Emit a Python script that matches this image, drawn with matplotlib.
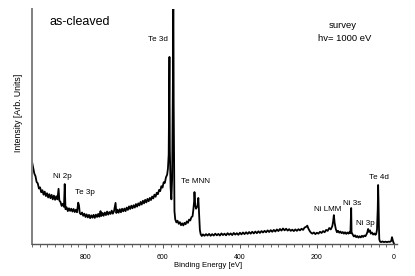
"""XPS survey spectrum of as-cleaved sample (hv = 1000 eV)."""
import matplotlib
matplotlib.use("Agg")
import matplotlib.pyplot as plt
from matplotlib.ticker import MultipleLocator

plt.rcParams["font.family"] = ["Liberation Sans", "DejaVu Sans"]

# binding energy [eV] and intensity [arb. units]
energy = [
    940, 937, 934, 931, 928, 925, 922, 919, 916, 913, 910, 907, 904, 901, 898, 895,
    892, 889, 886, 883, 880, 877, 874, 871, 869, 866, 863, 860, 857, 855, 853, 850,
    847, 844, 841, 838, 835, 832, 829, 826, 823, 820, 818, 816, 813, 810, 807, 804,
    801, 798, 795, 792, 789, 786, 783, 780, 777, 774, 771, 768, 765, 762, 760, 757,
    754, 751, 748, 745, 742, 739, 736, 733, 730, 727, 723, 721, 718, 715, 712, 709,
    706, 703, 700, 697, 694, 691, 688, 685, 682, 679, 676, 673, 670, 667, 664, 661,
    658, 655, 652, 649, 646, 643, 640, 637, 634, 631, 628, 625, 622, 619, 616, 613,
    610, 607, 604, 601, 598, 595, 592, 589, 587, 585, 583, 582, 580, 578, 576, 574,
    573, 572, 570, 568, 565, 562, 559, 556, 553, 550, 547, 544, 541, 538, 535, 532,
    529, 526, 523, 521, 519, 518, 516, 514, 512, 510, 508, 506, 504, 502, 499, 496,
    492, 488, 484, 480, 476, 472, 468, 464, 460, 456, 452, 448, 444, 440, 436, 432,
    428, 424, 420, 416, 412, 408, 404, 400, 396, 392, 388, 384, 380, 376, 372, 368,
    364, 360, 356, 352, 348, 344, 340, 336, 332, 328, 324, 320, 316, 312, 308, 304,
    300, 296, 292, 288, 284, 280, 276, 272, 268, 264, 260, 256, 252, 248, 244, 240,
    236, 232, 228, 225, 222, 219, 216, 212, 208, 204, 200, 196, 192, 188, 184, 180,
    176, 172, 168, 164, 160, 158, 156, 154, 151, 148, 145, 142, 139, 136, 133, 130,
    127, 124, 121, 118, 115, 113, 111, 110, 107, 104, 101, 98, 95, 92, 89, 86,
    83, 80, 77, 74, 71, 69, 67, 65, 62, 60, 57, 54, 51, 48, 46, 44,
    42, 41, 40, 39, 38, 36, 33, 30, 26, 22, 18, 14, 10, 7, 5, 3,
    1, 0,
]
intensity = [
    35.0, 32.5, 30.0, 28.9, 26.4, 25.8, 23.6, 24.1, 22.0, 22.9, 21.0, 22.3, 20.4, 21.6, 19.8, 21.2,
    19.5, 20.9, 19.0, 20.6, 18.8, 20.3, 19.0, 23.5, 18.5, 17.9, 16.2, 17.1, 15.8, 25.5, 14.8, 15.6,
    14.0, 15.2, 14.1, 15.0, 13.8, 14.9, 13.6, 14.6, 13.5, 17.6, 16.5, 13.2, 12.6, 13.4, 12.0, 12.9,
    11.5, 12.6, 11.3, 12.4, 11.0, 12.2, 11.2, 12.4, 11.1, 12.5, 11.5, 12.8, 11.6, 14.0, 11.9, 13.2,
    12.0, 13.4, 12.3, 13.8, 12.5, 13.6, 12.8, 14.2, 12.9, 14.0, 17.5, 13.2, 14.6, 13.3, 14.8, 13.5,
    15.0, 13.9, 15.1, 14.0, 15.5, 14.5, 16.0, 14.9, 16.3, 15.2, 16.5, 15.5, 17.0, 15.9, 17.3, 16.4,
    17.9, 16.8, 18.4, 17.3, 18.8, 17.7, 19.2, 18.2, 19.6, 18.7, 20.2, 19.4, 21.0, 20.1, 21.8, 21.2,
    23.0, 22.5, 24.6, 24.0, 26.3, 26.0, 28.4, 29.5, 32.0, 38.0, 79.6, 40.0, 24.0, 19.0, 28.0, 70.0,
    118.0, 60.0, 14.0, 10.5, 9.2, 9.9, 8.6, 9.3, 8.0, 8.8, 7.9, 9.0, 8.4, 9.6, 9.0, 10.4,
    10.0, 11.4, 11.8, 14.5, 18.0, 22.1, 16.5, 15.0, 15.6, 16.3, 19.6, 13.0, 6.0, 4.2, 3.4, 4.1,
    3.5, 4.2, 3.6, 4.3, 3.5, 4.2, 3.6, 4.4, 3.7, 4.3, 3.6, 4.5, 3.8, 4.4, 3.7, 4.6,
    3.9, 4.5, 3.8, 4.7, 4.0, 4.6, 3.9, 4.8, 4.1, 4.9, 4.2, 5.0, 4.3, 5.1, 4.4, 5.2,
    4.5, 5.3, 4.6, 5.4, 4.7, 5.5, 4.9, 5.6, 5.0, 5.8, 5.1, 5.9, 5.2, 6.0, 5.3, 6.2,
    5.5, 6.4, 5.7, 6.6, 5.8, 6.5, 5.7, 6.3, 5.6, 6.1, 5.5, 6.2, 5.6, 6.3, 5.8, 6.5,
    6.0, 7.0, 7.3, 7.8, 6.5, 5.6, 4.9, 4.4, 4.9, 4.2, 4.8, 4.4, 5.2, 4.7, 5.5, 5.0,
    6.0, 5.6, 6.8, 6.2, 7.6, 9.5, 12.3, 9.0, 6.4, 5.0, 5.6, 4.8, 5.3, 4.6, 5.1, 4.4,
    5.0, 4.3, 4.9, 4.4, 5.2, 4.6, 15.3, 5.0, 4.0, 3.2, 3.7, 2.9, 3.4, 2.7, 3.3, 2.8,
    3.5, 3.0, 3.6, 3.3, 4.2, 5.0, 6.4, 5.2, 5.8, 4.4, 4.9, 4.0, 4.5, 3.9, 4.3, 6.0,
    15.0, 25.1, 18.0, 8.0, 2.0, 1.0, 0.8, 1.1, 0.8, 1.0, 0.8, 1.0, 0.9, 1.3, 2.9, 1.6,
    0.5, 0.3,
]

# peak labels: text, binding energy, intensity
peak_names = ["Te 3d", "Ni 2p", "Te 3p", "Te MNN", "Ni LMM", "Ni 3s", "Ni 3p", "Te 4d"]
peak_x = [612, 862, 803, 516, 171, 108, 73, 38]
peak_y = [87.0, 28.7, 22.1, 26.4, 14.7, 17.4, 8.7, 28.5]

GREY = "#808080"

fig = plt.figure(figsize=(4.15, 2.76), dpi=100)
ax = fig.add_axes([32 / 415, 32 / 276, 365 / 415, 235 / 276])
ax.plot(energy, intensity, color="black", lw=1.3)

ax.set_xlim(940, -8)
ax.set_ylim(0, 100)
ax.xaxis.set_major_locator(MultipleLocator(200))
ax.xaxis.set_minor_locator(MultipleLocator(20))
ax.set_yticks([])
for side in ("top", "right"):
    ax.spines[side].set_visible(False)
ax.spines["left"].set_color(GREY)
ax.spines["left"].set_linewidth(1.4)
ax.spines["bottom"].set_color("#555555")
ax.spines["bottom"].set_linewidth(1.0)
ax.tick_params(axis="x", which="major", length=3, width=0.7, color="#555555",
               labelsize=5, pad=4)
ax.tick_params(axis="x", which="minor", length=2.5, width=0.6, color="#555555")

ax.set_xlabel("Binding Energy [eV]", fontsize=5.5)
ax.xaxis.set_label_coords(0.482, -0.075)
ax.set_ylabel("Intensity [Arb. Units]", fontsize=6.3)
ax.yaxis.set_label_coords(-0.025, 0.56)

for name, x, y in zip(peak_names, peak_x, peak_y):
    ax.text(x, y, name, ha="center", va="center", fontsize=5.8)

ax.text(0.13, 0.945, "as-cleaved", transform=ax.transAxes, ha="center", va="center",
        fontsize=9)
ax.text(0.852, 0.928, "survey", transform=ax.transAxes, ha="center", va="center",
        fontsize=6.8)
ax.text(0.857, 0.874, "hv= 1000 eV", transform=ax.transAxes, ha="center", va="center",
        fontsize=6.8)

fig.savefig("out.png", dpi=100, facecolor="white")
